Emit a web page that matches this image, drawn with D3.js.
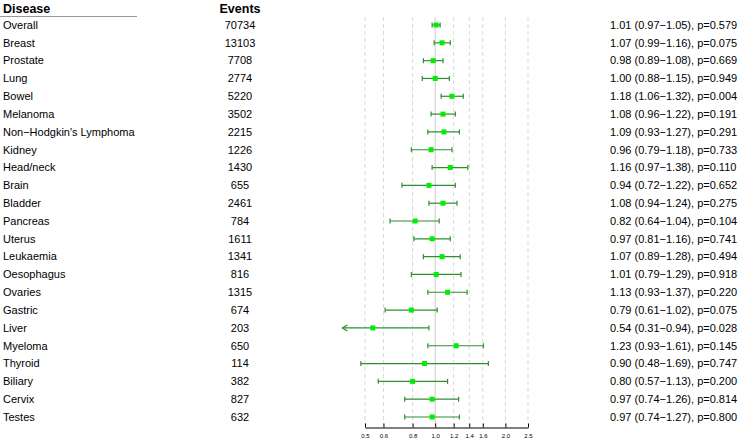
<!DOCTYPE html>
<html><head><meta charset="utf-8">
<script src="https://cdn.jsdelivr.net/npm/d3@7"></script>
<style>body{margin:0;background:#fff;} text{font-family:"Liberation Sans",Arial,Helvetica,sans-serif;}</style>
</head><body><svg id="c" width="741" height="443"></svg>
<script>
const diseases = ["Overall","Breast","Prostate","Lung","Bowel","Melanoma","Non\u2212Hodgkin's Lymphoma","Kidney","Head/neck","Brain","Bladder","Pancreas","Uterus","Leukaemia","Oesophagus","Ovaries","Gastric","Liver","Myeloma","Thyroid","Biliary","Cervix","Testes"];
const events = [70734,13103,7708,2774,5220,3502,2215,1226,1430,655,2461,784,1611,1341,816,1315,674,203,650,114,382,827,632];
const hr    = [1.01,1.07,0.98,1.00,1.18,1.08,1.09,0.96,1.16,0.94,1.08,0.82,0.97,1.07,1.01,1.13,0.79,0.54,1.23,0.90,0.80,0.97,0.97];
const lower = [0.97,0.99,0.89,0.88,1.06,0.96,0.93,0.79,0.97,0.72,0.94,0.64,0.81,0.89,0.79,0.93,0.61,0.31,0.93,0.48,0.57,0.74,0.74];
const upper = [1.05,1.16,1.08,1.15,1.32,1.22,1.27,1.18,1.38,1.22,1.24,1.04,1.16,1.28,1.29,1.37,1.02,0.94,1.61,1.69,1.13,1.26,1.27];
const pvals = ["0.579","0.075","0.669","0.949","0.004","0.191","0.291","0.733","0.110","0.652","0.275","0.104","0.741","0.494","0.918","0.220","0.075","0.028","0.145","0.747","0.200","0.814","0.800"];
const tickVals = [0.5,0.6,0.8,1.0,1.2,1.4,1.6,2.0,2.5];
const tickLabels = ["0.5","0.6","0.8","1.0","1.2","1.4","1.6","2.0","2.5"];

const svg = d3.select("#c");
const x = d3.scaleLog().domain([0.5,2.5]).range([365,528]);
const y = d3.scalePoint().domain(diseases).range([25,417]);
const clipLo = 0.4;

// gridlines
const g = svg.append("g");
g.selectAll("line.grid").data(tickVals.filter(v=>v!==1)).join("line")
  .attr("x1",d=>x(d)).attr("x2",d=>x(d)).attr("y1",17).attr("y2",425)
  .attr("stroke","#d9d9d9").attr("stroke-width",1).attr("stroke-dasharray","4,3");
g.append("line").attr("x1",x(1)).attr("x2",x(1)).attr("y1",17).attr("y2",425)
  .attr("stroke","#cccccc").attr("stroke-width",1);

// axis
const axis = d3.axisBottom(x).tickValues(tickVals).tickFormat((d,i)=>tickLabels[i]).tickSize(4).tickSizeOuter(0);
const ax = svg.append("g").attr("transform","translate(0,427.5)").call(axis);
ax.select(".domain").attr("stroke","#000");
ax.selectAll(".tick line").attr("stroke","#000").attr("y2",-4);
ax.selectAll(".tick text").attr("y",6).attr("font-size","6px").attr("fill","#000")
  .attr("font-family","Liberation Sans, Arial, sans-serif");

// headers
svg.append("text").attr("x",3).attr("y",13).attr("font-size","12.5px").attr("font-weight","bold").text("Disease");
svg.append("line").attr("x1",0).attr("x2",137).attr("y1",16.5).attr("y2",16.5).attr("stroke","#999").attr("stroke-width",1);
svg.append("text").attr("x",240).attr("y",13).attr("text-anchor","middle").attr("font-size","12.5px").attr("font-weight","bold").text("Events");

// rows
const rows = svg.append("g").selectAll("g").data(diseases).join("g")
  .attr("transform",d=>`translate(0,${y(d)})`);
rows.append("text").attr("x",3).attr("dy","0.35em").attr("font-size","11px").text(d=>d);
rows.append("text").attr("x",240).attr("dy","0.35em").attr("text-anchor","middle").attr("font-size","11px").text((d,i)=>events[i]);
rows.append("text").attr("x",610).attr("dy","0.35em").attr("font-size","11px")
  .text((d,i)=>`${hr[i].toFixed(2)} (${lower[i].toFixed(2)}\u2212${upper[i].toFixed(2)}), p=${pvals[i]}`);

const ciCol = "#2f8f2f";
rows.each(function(d,i){
  const r = d3.select(this);
  const lo = Math.max(lower[i], clipLo), hi = upper[i];
  r.append("line").attr("x1",x(lo)).attr("x2",x(hi)).attr("y1",0).attr("y2",0).attr("stroke",ciCol).attr("stroke-width",1.2);
  if (lower[i] >= clipLo) {
    r.append("line").attr("x1",x(lo)).attr("x2",x(lo)).attr("y1",-2.5).attr("y2",2.5).attr("stroke",ciCol).attr("stroke-width",1.2);
  } else {
    r.append("path").attr("d",`M${x(lo)+5},-3 L${x(lo)},0 L${x(lo)+5},3`).attr("fill","none").attr("stroke",ciCol).attr("stroke-width",1.2);
  }
  r.append("line").attr("x1",x(hi)).attr("x2",x(hi)).attr("y1",-2.5).attr("y2",2.5).attr("stroke",ciCol).attr("stroke-width",1.2);
  r.append("rect").attr("x",x(hr[i])-2.5).attr("y",-2.5).attr("width",5).attr("height",5).attr("fill","#00ee00");
});
</script></body></html>
